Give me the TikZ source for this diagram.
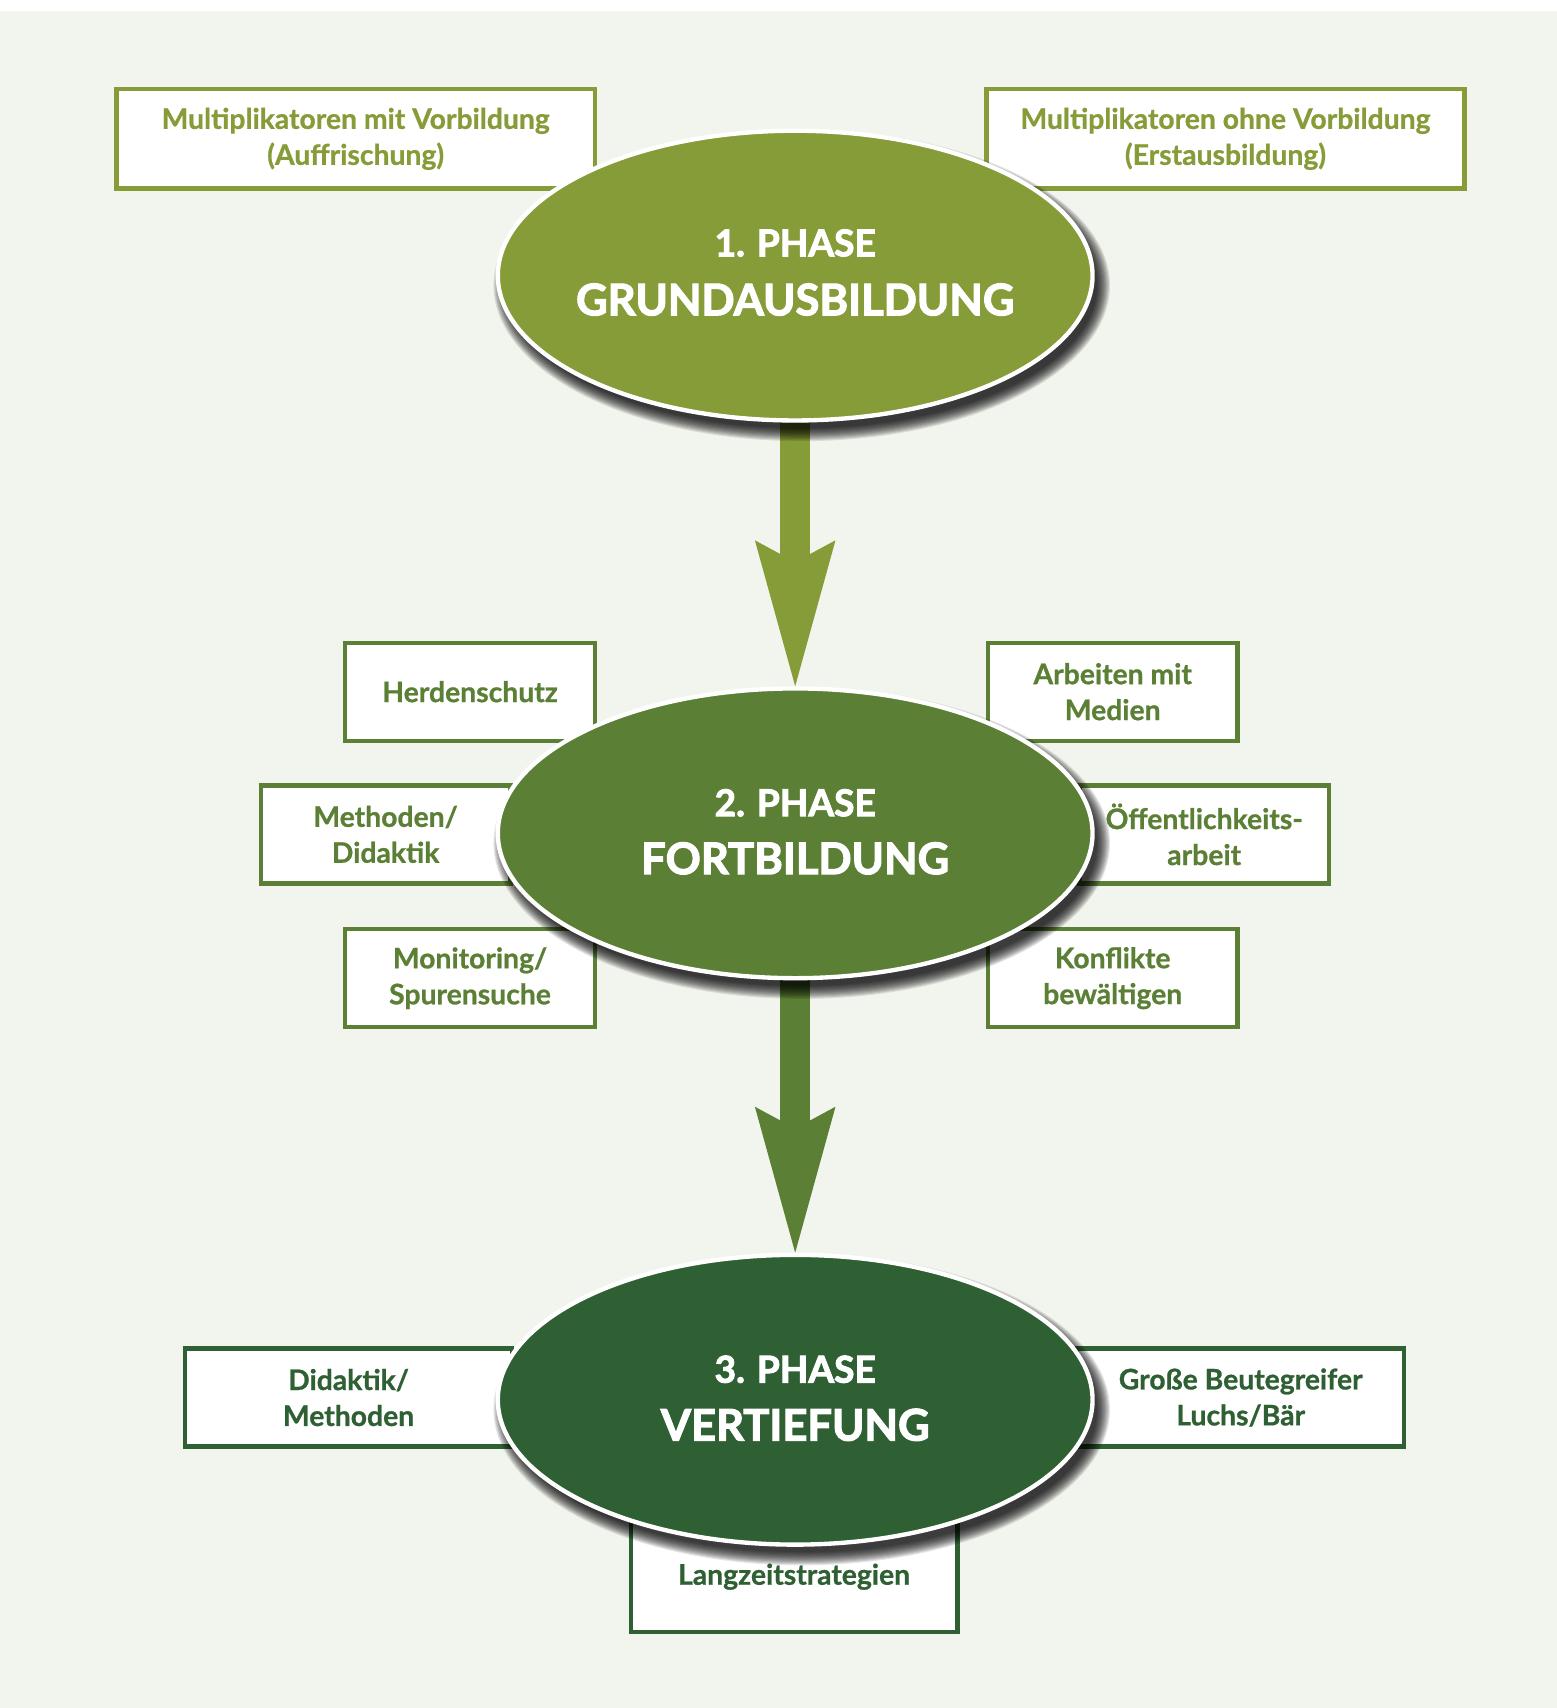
\documentclass[tikz,border=0pt]{standalone}
\usepackage{fontspec}
\setmainfont{Lato}
\newfontfamily\headfont{Lato}[BoldFeatures={FakeBold=2.5}]
\newfontfamily\boxfont{Lato}[BoldFeatures={FakeBold=0.8}]
\usetikzlibrary{shapes.geometric, arrows.meta}
\definecolor{pone}{HTML}{869C38}
\definecolor{ptwo}{HTML}{5B8035}
\definecolor{pthree}{HTML}{2F6033}
\definecolor{bgc}{HTML}{F2F5EE}
\pgfdeclarelayer{back}
\pgfdeclarelayer{mid}
\pgfdeclarelayer{shade}
\pgfsetlayers{back,mid,shade,main}
\newcommand\phaseshadow[2]{%
  \foreach \k in {0,...,12}{%
    \fill[black, opacity=0.1] (#1+6,#2+9) ellipse [x radius=283-\k, y radius=143-\k];}}
\begin{document}
\begin{tikzpicture}[x=0.5pt,y=-0.5pt,
  box/.style={draw=#1, fill=white, line width=2pt, text=#1, align=center,
    font=\boxfont\bfseries\fontsize{13}{16.5}\selectfont, inner sep=0pt},
  topbox/.style={box=pone, minimum width=219.5pt, minimum height=45.5pt},
  midbox/.style={box=ptwo, minimum width=114.5pt, minimum height=45pt},
  lowbox/.style={box=pthree, minimum width=150pt, minimum height=45pt},
  phase/.style={ellipse, draw=white, line width=2pt, fill=#1,
    minimum width=273pt, minimum height=133pt, inner sep=0pt},
  ptitle/.style={text=white, inner sep=0pt, font=\headfont\bfseries\fontsize{17}{20}\selectfont},
  pname/.style={text=white, inner sep=0pt, font=\headfont\bfseries\fontsize{20}{24}\selectfont},
  bigarrow/.style={draw=#1, line width=13.5pt,
    -{Stealth[length=67pt, width=37pt, inset=10pt, line width=0pt, fill=#1, color=#1]}}
]
\useasboundingbox (0,0) rectangle (1429,1568);
\begin{pgfonlayer}{back}
\fill[white] (0,0) rectangle (1429,1568);
\fill[bgc] (0,10) rectangle (1429,1568);
\end{pgfonlayer}

% phases
\node[phase=pone]   (e1) at (730,253)  {};
\node[phase=ptwo]   (e2) at (730,765)  {};
\node[phase=pthree] (e3) at (730,1285) {};

\node[ptitle] (t1a) at (730,223) {1. PHASE};
\node[pname]  (t1b) at (730,275) {GRUNDAUSBILDUNG};
\node[ptitle] (t2a) at (730,737) {2. PHASE};
\node[pname]  (t2b) at (730,788) {FORTBILDUNG};
\node[ptitle] (t3a) at (730,1257) {3. PHASE};
\node[pname]  (t3b) at (730,1308) {VERTIEFUNG};

\begin{pgfonlayer}{shade}
\phaseshadow{730}{253}
\phaseshadow{730}{765}
\phaseshadow{730}{1285}
\end{pgfonlayer}

\begin{pgfonlayer}{mid}
% top boxes
\node[topbox] (b1) at (326.5,127.5) {Multiplikatoren mit Vorbildung\\(Auffrischung)};
\node[topbox] (b2) at (1125,127.5) {Multiplikatoren ohne Vorbildung\\(Erstausbildung)};
% middle boxes
\node[midbox] (m1) at (431.5,635) {Herdenschutz};
\node[midbox] (m2) at (354,766) {Methoden/\\Didaktik};
\node[midbox] (m3) at (431.5,898) {Monitoring/\\Spurensuche};
\node[midbox] (m4) at (1021.5,635) {Arbeiten mit\\Medien};
\node[midbox] (m5) at (1105.5,766) {Öffentlichkeits-\\arbeit};
\node[midbox] (m6) at (1021.5,898) {Konflikte\\bewältigen};
% bottom boxes
\node[lowbox] (d1) at (320,1283) {Didaktik/\\Methoden};
\node[lowbox] (d2) at (1139,1283) {Große Beutegreifer\\Luchs/Bär};
\node[lowbox, minimum height=50.5pt] (d3) at (729,1447.5) {Langzeitstrategien};
% arrows
\draw[bigarrow=pone] (e1.south) -- (e2.north);
\draw[bigarrow=ptwo] (e2.south) -- (e3.north);
\end{pgfonlayer}
\end{tikzpicture}
\end{document}
